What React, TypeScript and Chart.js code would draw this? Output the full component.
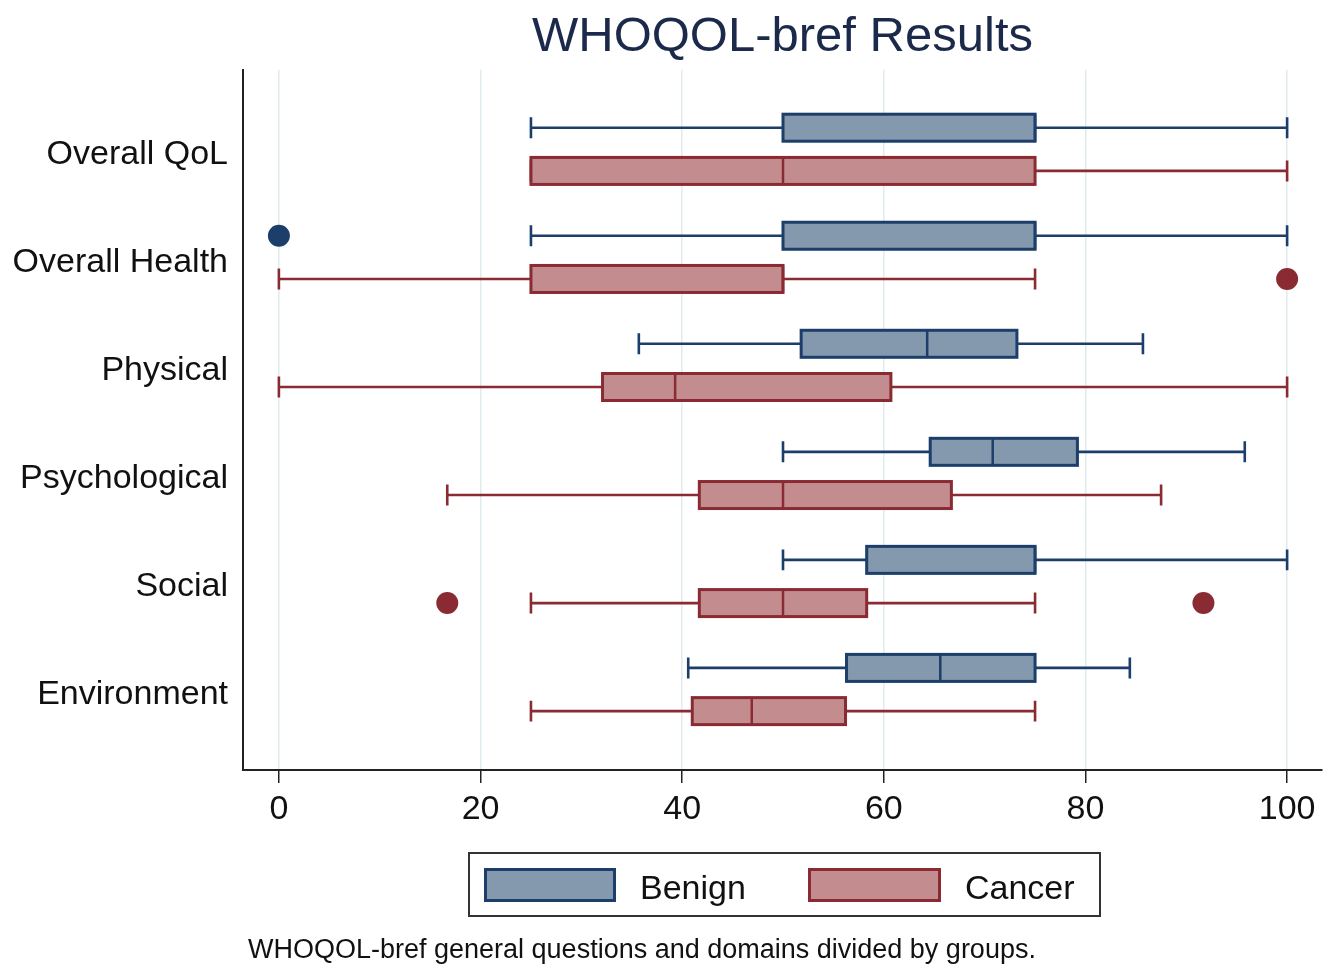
import React, { useEffect, useRef } from "react";
import { Chart, registerables } from "chart.js";

Chart.register(...registerables);

const FONT = "'Liberation Sans', Arial, Helvetica, sans-serif";

const categories = ["Overall QoL", "Overall Health", "Physical", "Psychological", "Social", "Environment"];
const xTicks = [0, 20, 40, 60, 80, 100];

const benignMin = [25, 25, 35.7, 50, 50, 40.6];
const benignQ1 = [50, 50, 51.8, 64.6, 58.3, 56.3];
const benignMedian = [75, 75, 64.3, 70.8, 75, 65.6];
const benignQ3 = [75, 75, 73.2, 79.2, 75, 75];
const benignMax = [100, 100, 85.7, 95.8, 100, 84.4];
const benignOutliers = [[], [0], [], [], [], []];

const cancerMin = [25, 0, 0, 16.7, 25, 25];
const cancerQ1 = [25, 25, 32.1, 41.7, 41.7, 41.0];
const cancerMedian = [50, 50, 39.3, 50, 50, 46.9];
const cancerQ3 = [75, 50, 60.7, 66.7, 58.3, 56.2];
const cancerMax = [100, 75, 100, 87.5, 75, 75];
const cancerOutliers = [[], [100], [], [], [16.7, 91.7], []];

const BENIGN_FILL = "#8499ad";
const BENIGN_LINE = "#1c3e6a";
const CANCER_FILL = "#c38d90";
const CANCER_LINE = "#8a2a33";

const OFFSET = 0.2;
const BOX_HALF = 0.125;
const CAP_HALF = 0.097;
const LABEL_SHIFT = 0.05;

const groups = [
  { off: -OFFSET, min: benignMin, q1: benignQ1, med: benignMedian, q3: benignQ3, max: benignMax, fill: BENIGN_FILL, line: BENIGN_LINE },
  { off: OFFSET, min: cancerMin, q1: cancerQ1, med: cancerMedian, q3: cancerQ3, max: cancerMax, fill: CANCER_FILL, line: CANCER_LINE },
];

const boxPlugin = {
  id: "boxes",
  beforeDatasetsDraw(chart: any) {
    const { ctx, scales } = chart;
    const x = scales.x;
    const y = scales.y;
    const half = Math.abs(y.getPixelForValue(BOX_HALF) - y.getPixelForValue(0));
    const cap = Math.abs(y.getPixelForValue(CAP_HALF) - y.getPixelForValue(0));
    const px = (v: number) => x.getPixelForValue(v);
    ctx.save();
    groups.forEach((g) => {
      categories.forEach((_, i) => {
        const cy = y.getPixelForValue(i + g.off);
        ctx.strokeStyle = g.line;
        ctx.lineWidth = 2.6;
        ctx.beginPath();
        ctx.moveTo(px(g.min[i]), cy);
        ctx.lineTo(px(g.q1[i]), cy);
        ctx.moveTo(px(g.q3[i]), cy);
        ctx.lineTo(px(g.max[i]), cy);
        ctx.moveTo(px(g.min[i]), cy - cap);
        ctx.lineTo(px(g.min[i]), cy + cap);
        ctx.moveTo(px(g.max[i]), cy - cap);
        ctx.lineTo(px(g.max[i]), cy + cap);
        ctx.stroke();
        const l = px(g.q1[i]);
        const r = px(g.q3[i]);
        ctx.fillStyle = g.fill;
        ctx.fillRect(l, cy - half, r - l, 2 * half);
        ctx.lineWidth = 3;
        ctx.strokeRect(l, cy - half, r - l, 2 * half);
        ctx.lineWidth = 2.5;
        ctx.beginPath();
        ctx.moveTo(px(g.med[i]), cy - half);
        ctx.lineTo(px(g.med[i]), cy + half);
        ctx.stroke();
      });
    });
    ctx.restore();
  },
};

function outlierPoints(list: number[][], off: number) {
  const pts: { x: number; y: number }[] = [];
  list.forEach((vals, i) => vals.forEach((v) => pts.push({ x: v, y: i + off })));
  return pts;
}

export default function App() {
  const ref = useRef<HTMLCanvasElement | null>(null);
  useEffect(() => {
    if (!ref.current) return;
    const chart = new Chart(ref.current, {
      type: "scatter",
      data: {
        datasets: [
          {
            label: "Benign",
            data: outlierPoints(benignOutliers, -OFFSET),
            pointRadius: 11,
            pointBackgroundColor: BENIGN_LINE,
            pointBorderColor: BENIGN_LINE,
            pointBorderWidth: 0,
          },
          {
            label: "Cancer",
            data: outlierPoints(cancerOutliers, OFFSET),
            pointRadius: 11,
            pointBackgroundColor: CANCER_LINE,
            pointBorderColor: CANCER_LINE,
            pointBorderWidth: 0,
          },
        ],
      },
      options: {
        animation: false,
        responsive: true,
        maintainAspectRatio: false,
        layout: { padding: { left: 0, right: 8, top: 0, bottom: 0 } },
        plugins: {
          legend: { display: false },
          tooltip: { enabled: false },
          title: {
            display: true,
            text: "WHOQOL-bref Results",
            color: "#1b2a4b",
            fullSize: false,
            font: { size: 49, family: FONT, weight: "normal" },
            padding: { top: 8, bottom: 3 },
          },
        },
        scales: {
          x: {
            type: "linear",
            min: -3.56,
            max: 103.46,
            afterBuildTicks: (s: any) => {
              s.ticks = xTicks.map((v) => ({ value: v }));
            },
            afterFit: (s: any) => {
              s.height = 965 - 770;
              s.paddingLeft = 0;
              s.paddingRight = 0;
            },
            ticks: { font: { size: 34, family: FONT }, color: "#111", padding: 6 },
            grid: { color: "#e0ebef", lineWidth: 1.5, tickColor: "#222", tickLength: 13, tickWidth: 1.5 },
            border: { display: true, color: "#222", width: 2 },
          },
          y: {
            type: "linear",
            reverse: true,
            min: -0.736,
            max: 5.745,
            afterBuildTicks: (s: any) => {
              s.ticks = categories.map((_, i) => ({ value: i + LABEL_SHIFT }));
            },
            afterFit: (s: any) => {
              s.width = 243;
              s.paddingTop = 0;
              s.paddingBottom = 0;
            },
            ticks: {
              font: { size: 34, family: FONT },
              color: "#111",
              padding: 15,
              callback: (v: any) => categories[Math.round(v as number)],
            },
            grid: { display: false, drawTicks: false },
            border: { display: true, color: "#222", width: 2 },
          },
        },
      },
      plugins: [boxPlugin],
    } as any);
    return () => chart.destroy();
  }, []);

  return (
    <div style={{ position: "absolute", left: 0, top: 0, width: 1333, height: 965, background: "#fff", fontFamily: FONT, overflow: "hidden" }}>
      <canvas ref={ref} style={{ position: "absolute", left: 0, top: 0, width: 1333, height: 965 }} />
      <div
        style={{
          position: "absolute",
          left: 468,
          top: 852,
          width: 633,
          height: 65,
          boxSizing: "border-box",
          border: "2px solid #333",
          background: "#fff",
        }}
      >
        <div style={{ position: "absolute", left: 14, top: 14, width: 132, height: 34, boxSizing: "border-box", background: BENIGN_FILL, border: `3px solid ${BENIGN_LINE}` }} />
        <div style={{ position: "absolute", left: 170, top: 3, height: 61, lineHeight: "61px", fontSize: 34, color: "#111" }}>Benign</div>
        <div style={{ position: "absolute", left: 338, top: 14, width: 133, height: 34, boxSizing: "border-box", background: CANCER_FILL, border: `3px solid ${CANCER_LINE}` }} />
        <div style={{ position: "absolute", left: 495, top: 3, height: 61, lineHeight: "61px", fontSize: 34, color: "#111" }}>Cancer</div>
      </div>
      <div style={{ position: "absolute", left: 248, top: 934, fontSize: 27, lineHeight: "31px", color: "#111", whiteSpace: "nowrap" }}>
        WHOQOL-bref general questions and domains divided by groups.
      </div>
    </div>
  );
}
